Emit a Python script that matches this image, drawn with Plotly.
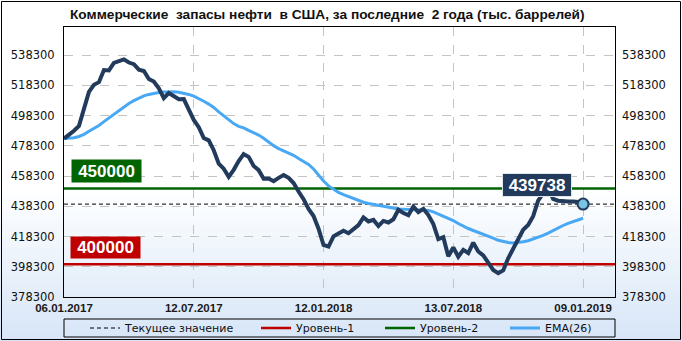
import plotly.graph_objects as go

# ---------------- data ----------------
tick_idx = [0, 26, 52, 78, 104]
tick_dates = ["06.01.2017", "12.07.2017", "12.01.2018", "13.07.2018", "09.01.2019"]

stocks = [
    483100, 485500, 488300, 491500, 503000, 514000, 518700, 520400, 528400, 528200,
    533100, 534000, 535500, 533400, 532300, 528700, 527800, 522500, 520800, 516300,
    509900, 513200, 511500, 509100, 509200, 502900, 495400, 490600, 483400, 481900,
    475400, 466500, 463200, 457800, 462400, 468200, 472800, 471000, 465000, 462200,
    456500, 456700, 454900, 457100, 459000, 457100, 453700, 448100, 443000, 436500,
    431900, 423500, 412700, 411600, 418400, 420300, 422100, 420500, 423500, 425900,
    430900, 428300, 429300, 425300, 428600, 427600, 429700, 436000, 433800, 432400,
    438100, 434500, 436600, 432500, 426500, 416600, 417900, 405200, 411100, 404900,
    409500, 407400, 414200, 408400, 405800, 401500, 396200, 394100, 395900, 403900,
    410000, 416400, 422800, 426000, 431800, 442100, 446900, 450500, 443200, 442000,
    441500, 441400, 441400, 441200, 439738,
]

ema26 = [
    483100, 483300, 483700, 484500, 485900, 487900, 489800, 491800, 494300, 496700,
    499200, 501700, 504200, 506300, 508200, 510000, 511300, 512300, 513100, 513600,
    513900, 514000, 514000, 513700, 513200, 512300, 511200, 509700, 507800, 505900,
    503700, 500800, 498200, 495300, 493000, 491200, 490200, 488500, 487000, 485400,
    483300, 480800, 478400, 476500, 475000, 473600, 472000, 469900, 467900, 466000,
    463000, 459000, 455000, 451800, 449700, 447500, 446000, 444700, 443200, 441900,
    441000, 440200, 439500, 438900, 438200, 437500, 436800, 436500, 436300, 436000,
    435900, 435800, 435800, 435600, 434600, 433200, 432000, 430200, 428800, 426900,
    425000, 423600, 422300, 421100, 420100, 418800, 417200, 415800, 414800, 414300,
    414100, 414300, 414900, 415500, 416600, 418100, 419000, 420500, 422300, 424000,
    425600, 427000, 428200, 429400, 430400,
]

level1 = 400000
level2 = 450000
current_value = 439738
y_ticks = [378300, 398300, 418300, 438300, 458300, 478300, 498300, 518300, 538300]

title_text = "Коммерческие  запасы нефти  в США, за последние  2 года (тыс. баррелей)"
names = ["Текущее значение", "Уровень-1", "Уровень-2", "EMA(26)"]

# ---------------- geometry ----------------
W, H = 682, 341
L, R, T, B = 64, 615, 27, 297   # plot area in px
PW, PH = R - L, B - T
x_range = [0, 110.4]
y_range = [378300, 556900]


def px(xp):
    return (xp - L) / PW


def py(yp):
    return (B - yp) / PH


xs = list(range(len(stocks)))
last = len(stocks) - 1

NAVY = "#223a5c"
BLUE = "#48a8f4"
RED = "#c00000"
GREEN = "#006400"

fig = go.Figure()

# level lines (legend entries)
fig.add_trace(go.Scatter(x=x_range, y=[current_value, current_value], mode="lines",
                         line=dict(color="black", width=1, dash="4px,3px"),
                         name=names[0], legend="legend", hoverinfo="skip"))
fig.add_trace(go.Scatter(x=x_range, y=[level1, level1], mode="lines",
                         line=dict(color=RED, width=2.5),
                         name=names[1], legend="legend2", hoverinfo="skip"))
fig.add_trace(go.Scatter(x=x_range, y=[level2, level2], mode="lines",
                         line=dict(color=GREEN, width=2.5),
                         name=names[2], legend="legend3", hoverinfo="skip"))
fig.add_trace(go.Scatter(x=xs, y=ema26, mode="lines",
                         line=dict(color=BLUE, width=3),
                         name=names[3], legend="legend4"))
fig.add_trace(go.Scatter(x=xs, y=stocks, mode="lines",
                         line=dict(color=NAVY, width=4),
                         showlegend=False))
fig.add_trace(go.Scatter(x=[xs[last]], y=[stocks[last]], mode="markers",
                         marker=dict(size=11, color="#79c4e0", line=dict(color=NAVY, width=2)),
                         showlegend=False))
# right axis helper
fig.add_trace(go.Scatter(x=[xs[0]], y=[stocks[0]], yaxis="y2", mode="markers",
                         marker=dict(opacity=0), showlegend=False, hoverinfo="skip"))

shapes = []
# background gradient (white -> light blue)
g0, g1 = 190, H
nb = 40
c_top = (255, 255, 255)
c_bot = (214, 229, 247)
for i in range(nb):
    y0 = g0 + (g1 - g0) * i / nb
    y1 = g0 + (g1 - g0) * (i + 1) / nb
    t = (i + 0.5) / nb
    c = tuple(round(c_top[k] + (c_bot[k] - c_top[k]) * t) for k in range(3))
    shapes.append(dict(type="rect", xref="paper", yref="paper",
                       x0=px(0), x1=px(W), y0=py(y1 + 0.5), y1=py(y0),
                       fillcolor="rgb(%d,%d,%d)" % c, line=dict(width=0), layer="below"))
# outer frame
shapes.append(dict(type="rect", xref="paper", yref="paper",
                   x0=px(1.5), x1=px(W - 1.5), y0=py(H - 1.5), y1=py(1.5),
                   line=dict(color="black", width=1), fillcolor="rgba(0,0,0,0)", layer="above"))
# legend frame
shapes.append(dict(type="rect", xref="paper", yref="paper",
                   x0=px(64), x1=px(615), y0=py(337), y1=py(319),
                   line=dict(color="black", width=1), fillcolor="rgba(0,0,0,0)", layer="above"))

annotations = [
    dict(text="<b>%s</b>" % title_text, xref="paper", yref="paper",
         x=px(68), y=py(14), xanchor="left", yanchor="middle", showarrow=False,
         font=dict(family="Liberation Sans", size=13.7, color="#111111")),
    dict(text="<b>%d</b>" % level2, xref="paper", yref="y", x=px(71), y=level2,
         xanchor="left", yanchor="bottom", yshift=6, showarrow=False,
         width=69, height=22, bgcolor=GREEN, borderpad=0,
         font=dict(family="Liberation Sans", size=17, color="white")),
    dict(text="<b>%d</b>" % level1, xref="paper", yref="y", x=px(70), y=level1,
         xanchor="left", yanchor="bottom", yshift=5, showarrow=False,
         width=69, height=21, bgcolor=RED, borderpad=0,
         font=dict(family="Liberation Sans", size=17, color="white")),
    dict(text="<b>%d</b>" % current_value, xref="paper", yref="y", x=px(537), y=current_value,
         xanchor="center", yanchor="middle", yshift=19, showarrow=False,
         width=68, height=22, bgcolor=NAVY, bordercolor="#dfe6ee", borderwidth=1, borderpad=0,
         font=dict(family="Liberation Sans", size=17, color="white")),
]

leg_common = dict(orientation="h", yanchor="middle", xanchor="left",
                  bgcolor="rgba(0,0,0,0)", borderwidth=0,
                  font=dict(family="DejaVu Sans", size=11, color="#111111"),
                  itemclick=False, itemdoubleclick=False)
leg_y = py(328)

fig.update_layout(
    width=W, height=H,
    margin=dict(l=L, r=W - R, t=T, b=H - B, autoexpand=False),
    paper_bgcolor="white", plot_bgcolor="rgba(0,0,0,0)",
    showlegend=True,
    legend=dict(x=px(85), y=leg_y, **leg_common),
    legend2=dict(x=px(256), y=leg_y, **leg_common),
    legend3=dict(x=px(380), y=leg_y, **leg_common),
    legend4=dict(x=px(505), y=leg_y, **leg_common),
    xaxis=dict(range=x_range, tickvals=tick_idx, ticktext=tick_dates,
               showgrid=True, gridcolor="#c4c4c4", griddash="dash", gridwidth=1,
               showline=True, linecolor="black", linewidth=1, mirror=True,
               ticks="", zeroline=False,
               tickfont=dict(family="Liberation Sans", size=11.5, color="#1a1a1a", weight="bold")),
    yaxis=dict(range=y_range, tickvals=y_ticks, ticktext=[str(v) for v in y_ticks],
               showgrid=True, gridcolor="#c4c4c4", griddash="dash", gridwidth=1,
               showline=True, linecolor="black", linewidth=1, mirror=True,
               ticks="", zeroline=False, ticklabelstandoff=6,
               tickfont=dict(family="DejaVu Sans", size=11.5, color="#111111")),
    yaxis2=dict(range=y_range, tickvals=y_ticks, ticktext=[str(v) for v in y_ticks],
                overlaying="y", side="right", showgrid=False, zeroline=False,
                showline=False, ticks="", ticklabelstandoff=6,
                tickfont=dict(family="DejaVu Sans", size=11.5, color="#111111")),
    shapes=shapes,
    annotations=annotations,
)

fig.write_html("out.html")
